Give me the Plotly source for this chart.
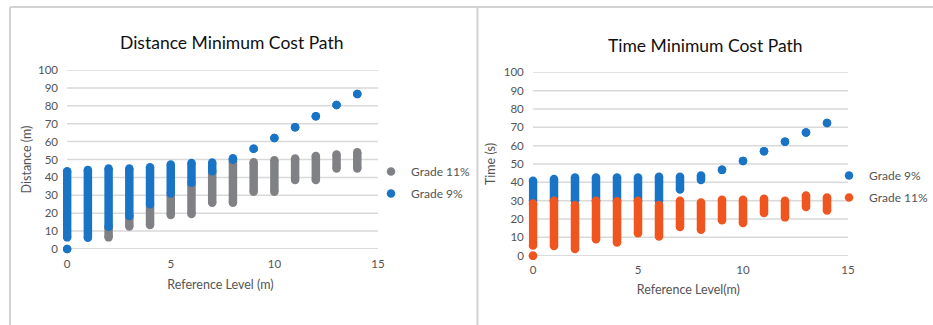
import plotly.graph_objects as go

# ---------------- data ----------------
# Distance Minimum Cost Path (left)
dist_g11_x = [2, 3, 4, 5, 6, 7, 8, 9, 10, 11, 12, 13, 14]
dist_g11_low = [6.5, 12.6, 13.4, 19.0, 19.5, 25.8, 25.8, 32.0, 32.0, 38.5, 38.5, 45.0, 45.0]
dist_g11_high = [12.0, 18.0, 24.0, 30.0, 36.0, 43.0, 49.0, 48.5, 49.6, 50.6, 52.0, 52.8, 54.0]

dist_g9_x = [0, 0, 1, 2, 3, 4, 5, 6, 7, 8, 9, 10, 11, 12, 13, 14]
dist_g9_low = [0.0, 6.5, 6.3, 12.5, 18.5, 25.0, 31.0, 37.0, 43.5, 49.8, 56.0, 62.0, 68.0, 74.2, 80.5, 86.6]
dist_g9_high = [0.0, 43.5, 44.2, 45.0, 45.0, 45.7, 47.2, 48.0, 48.3, 50.7, 56.0, 62.0, 68.0, 74.2, 80.5, 86.6]

# Time Minimum Cost Path (right)
time_g9_x = [0, 1, 2, 3, 4, 5, 6, 7, 8, 9, 10, 11, 12, 13, 14]
time_g9_low = [30.0, 30.0, 30.0, 30.0, 30.0, 30.0, 30.0, 36.1, 41.3, 46.8, 51.7, 56.9, 62.2, 67.2, 72.3]
time_g9_high = [40.9, 41.8, 42.7, 42.7, 42.7, 42.7, 43.1, 43.1, 43.7, 46.8, 51.7, 56.9, 62.2, 67.2, 72.3]

time_g11_x = [0, 0, 1, 2, 3, 4, 5, 6, 7, 8, 9, 10, 11, 12, 13, 14]
time_g11_low = [0.0, 5.5, 5.3, 3.7, 9.0, 7.2, 12.3, 10.5, 15.6, 14.1, 19.3, 17.8, 23.3, 20.9, 26.6, 24.6]
time_g11_high = [0.0, 28.4, 29.9, 27.7, 29.9, 29.7, 29.9, 27.7, 29.9, 29.0, 30.5, 30.5, 31.0, 29.9, 32.8, 31.7]

y_ticks = [0, 10, 20, 30, 40, 50, 60, 70, 80, 90, 100]
x_ticks = [0, 5, 10, 15]

# ---------------- style ----------------
W, H = 933, 325
BLUE = "#1a74c6"
GRAY = "#808184"
ORANGE = "#f0551f"
TICK = "#545454"
GRID = "#d9d9d9"
FONT = "Lato"
BAR_W = 8.5


def px_x(p):
    return p / W


def px_y(p):
    return 1 - p / H


def segs(xs, lows, highs):
    X, Y = [], []
    for x, lo, hi in zip(xs, lows, highs):
        X += [x, x, None]
        Y += [lo, hi, None]
    return X, Y


fig = go.Figure()


def add_series(xs, lows, highs, color, name, xa, ya, legend):
    X, Y = segs(xs, lows, highs)
    fig.add_trace(go.Scatter(
        x=X, y=Y, mode="lines", line=dict(color=color, width=BAR_W),
        xaxis=xa, yaxis=ya, showlegend=False, legendgroup=name + xa,
        hoverinfo="skip", connectgaps=False))
    fig.add_trace(go.Scatter(
        x=X, y=Y, mode="markers", name=name,
        marker=dict(color=color, size=BAR_W, line=dict(width=0)),
        xaxis=xa, yaxis=ya, legend=legend, legendgroup=name + xa,
        cliponaxis=False))


add_series(dist_g11_x, dist_g11_low, dist_g11_high, GRAY, "Grade 11%", "x", "y", "legend")
add_series(dist_g9_x, dist_g9_low, dist_g9_high, BLUE, "Grade 9%", "x", "y", "legend")
add_series(time_g9_x, time_g9_low, time_g9_high, BLUE, "Grade 9%", "x2", "y2", "legend2")
add_series(time_g11_x, time_g11_low, time_g11_high, ORANGE, "Grade 11%", "x2", "y2", "legend2")

XR = [-0.2, 15]
axis_font = dict(family=FONT, size=11.5, color=TICK)
title_font = dict(family=FONT, size=12.5, color=TICK)

common_x = dict(range=XR, tickvals=x_ticks, showgrid=False, zeroline=False,
                showline=False, ticks="", tickfont=axis_font, fixedrange=True,
                ticklabelstandoff=6)
common_y = dict(range=[0, 100], tickvals=y_ticks, showgrid=False, zeroline=False,
                showline=False, ticks="", tickfont=axis_font, fixedrange=True,
                ticklabelstandoff=4)

fig.update_layout(
    xaxis=dict(common_x, domain=[px_x(63), px_x(378)], anchor="y",
               title=dict(text="Reference Level (m)", font=title_font, standoff=11)),
    yaxis=dict(common_y, domain=[px_y(249), px_y(70)], anchor="x",
               title=dict(text="Distance (m)", font=title_font, standoff=3)),
    xaxis2=dict(common_x, domain=[px_x(528.8), px_x(848)], anchor="y2",
                title=dict(text="Reference Level(m)", font=title_font, standoff=10)),
    yaxis2=dict(common_y, domain=[px_y(255.7), px_y(72.3)], anchor="x2",
                title=dict(text="Time (s)", font=title_font, standoff=5)),
)

# gridlines spanning x = 0..15 only
shapes = []
for xa, ya in (("x", "y"), ("x2", "y2")):
    for v in y_ticks:
        shapes.append(dict(type="line", xref=xa, yref=ya, x0=0, x1=15, y0=v, y1=v,
                           line=dict(color="#cfcfcf" if v == 0 else GRID, width=1.5),
                           layer="below"))
# panel borders
BORDER = "#d2d2d2"
shapes.append(dict(type="line", xref="paper", yref="paper", x0=px_x(10), x1=1,
                   y0=px_y(7), y1=px_y(7), line=dict(color=BORDER, width=2)))
shapes.append(dict(type="line", xref="paper", yref="paper", x0=px_x(10), x1=px_x(10),
                   y0=0, y1=px_y(7), line=dict(color=BORDER, width=2)))
shapes.append(dict(type="line", xref="paper", yref="paper", x0=px_x(477.5), x1=px_x(477.5),
                   y0=0, y1=px_y(7), line=dict(color=BORDER, width=2)))

annotations = [
    dict(text="Distance Minimum Cost Path", xref="paper", yref="paper",
         x=px_x(232), y=px_y(42), xanchor="center", yanchor="middle", showarrow=False,
         font=dict(family=FONT, size=17.5, color="#111111")),
    dict(text="Time Minimum Cost Path", xref="paper", yref="paper",
         x=px_x(705), y=px_y(46), xanchor="center", yanchor="middle", showarrow=False,
         font=dict(family=FONT, size=17.5, color="#111111")),
]

leg_font = dict(family=FONT, size=12, color=TICK)
fig.update_layout(
    width=W, height=H,
    margin=dict(l=0, r=0, t=0, b=0, autoexpand=False),
    paper_bgcolor="white", plot_bgcolor="white",
    shapes=shapes, annotations=annotations,
    legend=dict(x=px_x(371), y=px_y(157), xanchor="left", yanchor="top",
                font=leg_font, bgcolor="rgba(0,0,0,0)", tracegroupgap=3,
                itemclick=False, itemdoubleclick=False),
    legend2=dict(x=px_x(829), y=px_y(161), xanchor="left", yanchor="top",
                 font=leg_font, bgcolor="rgba(0,0,0,0)", tracegroupgap=3,
                 itemclick=False, itemdoubleclick=False),
    showlegend=True,
)

fig.write_html("out.html")
